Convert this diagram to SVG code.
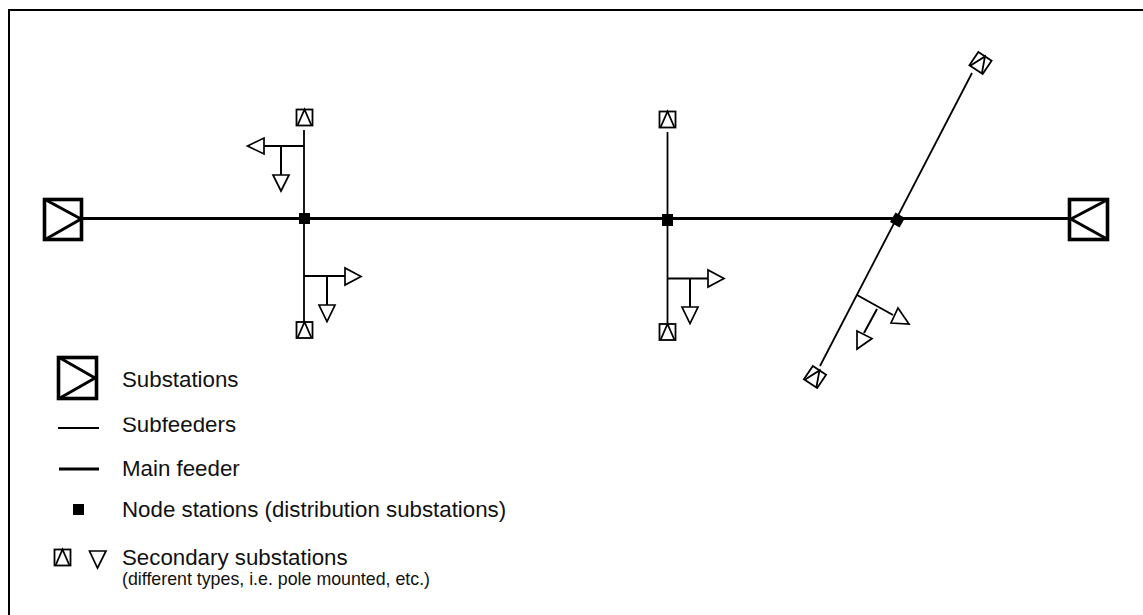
<svg xmlns="http://www.w3.org/2000/svg" width="1143" height="615" viewBox="0 0 1143 615">
<style>
text{font-family:"Liberation Sans",Arial,sans-serif;fill:#111}
.lg{font-size:22.3px}
.sm{font-size:17.8px}
.main{stroke:#000;stroke-width:3.2;fill:none}
.sub{stroke:#000;stroke-width:1.8;fill:none}
.sq{stroke:#000;stroke-width:3.6;fill:#fff}
.sqi{stroke:#000;stroke-width:3;fill:none}
.sec{stroke:#000;stroke-width:1.8;fill:#fff}
.secl{stroke:#000;stroke-width:1.8;fill:none}
.tri{stroke:#000;stroke-width:1.7;fill:#fff;stroke-linejoin:miter}
.br{stroke:#000;stroke-width:2;fill:none}
</style>
<defs>
<g id="secsym"><rect class="sec" x="-8" y="-8" width="16" height="16"/><path class="secl" d="M-7 8L0-8L7 8"/></g>
<clipPath id="subclip"><rect x="110" y="417.500" width="300" height="30"/></clipPath>
</defs>
<rect width="1143" height="615" fill="#fff"/>
<path d="M9 615V10H1143" fill="none" stroke="#000" stroke-width="2"/>
<g id="connectors">
<path class="main" d="M82 218.500H1068"/>
<path class="sub" d="M304 130V322"/>
<path class="sub" d="M667.500 132V324"/>
<path class="sub" d="M972 73L820 366"/>
<path class="br" d="M304 146H264M281 146V175"/>
<path class="br" d="M304 276H345M327 276V305"/>
<path class="br" d="M667 278.500H708M690 278.500V307"/>
<path class="br" d="M857 295L893 315M877 309L864 333"/>
</g>
<g id="substation-left"><rect class="sq" x="44.500" y="199.500" width="37" height="40"/><path class="sqi" d="M46 200L81 219L46 239"/></g>
<g id="substation-right"><rect class="sq" x="1069.500" y="199.500" width="38" height="40"/><path class="sqi" d="M1107 200L1071 219L1107 239"/></g>
<g id="node-1"><rect x="299" y="213" width="11" height="11"/></g>
<g id="node-2"><rect x="662" y="214" width="11" height="12"/></g>
<g id="node-3"><rect x="-5.500" y="-5.500" width="11" height="11" transform="translate(897.500 220) rotate(30)"/></g>
<g id="sec-1"><use href="#secsym" transform="translate(304.500 117.500)"/></g>
<g id="sec-2"><use href="#secsym" transform="translate(304.500 330)"/></g>
<g id="sec-3"><use href="#secsym" transform="translate(667.500 119.500)"/></g>
<g id="sec-4"><use href="#secsym" transform="translate(667.500 332)"/></g>
<g id="sec-5"><use href="#secsym" transform="translate(980.500 63) rotate(34)"/></g>
<g id="sec-6"><use href="#secsym" transform="translate(815 377) rotate(34)"/></g>
<g id="load-1"><path class="tri" d="M264 138V154L247.500 146Z"/></g>
<g id="load-2"><path class="tri" d="M273 175H289L281 191Z"/></g>
<g id="load-3"><path class="tri" d="M345 268V285L361 276.500Z"/></g>
<g id="load-4"><path class="tri" d="M319 305H335L327 321.500Z"/></g>
<g id="load-5"><path class="tri" d="M708 270V287L724 278.500Z"/></g>
<g id="load-6"><path class="tri" d="M682 307H698L690 323.500Z"/></g>
<g id="load-7"><path class="tri" d="M898 308L909 324L891 323Z"/></g>
<g id="load-8"><path class="tri" d="M857 331L872 338.500L857 349Z"/></g>
<g id="legend-substation"><rect class="sq" x="58.500" y="357.500" width="38" height="41"/><path class="sqi" d="M60 358L95 378L60 398"/><text class="lg" x="122" y="387">Substations</text></g>
<g id="legend-subfeeders"><path class="sub" d="M58 428H99"/><text class="lg" x="122" y="432" clip-path="url(#subclip)">Subfeeders</text></g>
<g id="legend-main"><path class="main" d="M59 469H99"/><text class="lg" x="122" y="475.500">Main feeder</text></g>
<g id="legend-node"><rect x="73" y="504" width="11" height="11"/><text class="lg" x="122" y="517">Node stations (distribution substations)</text></g>
<g id="legend-secondary"><use href="#secsym" transform="translate(62.500 557.500)"/><path class="tri" d="M89.500 551H106L97.500 568Z"/><text class="lg" x="122" y="565">Secondary substations</text><text class="sm" x="122" y="585">(different types, i.e. pole mounted, etc.)</text></g>
</svg>
